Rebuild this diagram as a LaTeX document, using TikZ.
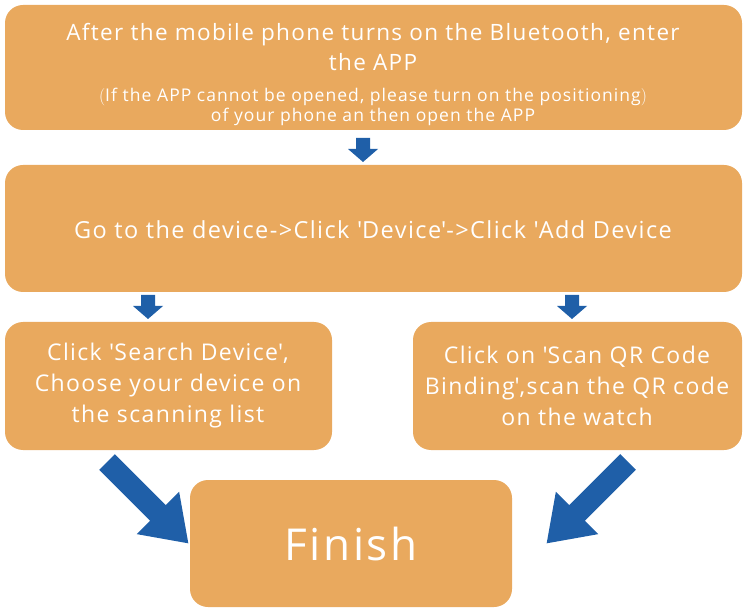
\documentclass[tikz,border=0pt]{standalone}
\usepackage{fontspec}
\setmainfont{Open Sans}[LetterSpace=6]
\newcommand{\sq}{\textquotesingle}
\begin{document}
\begin{tikzpicture}[x=1pt,y=-1pt,
 box/.style={fill=boxc,draw=none,rounded corners=18pt,text=white,align=center,inner sep=0pt},
 barr/.style={fill=arrc,draw=none}]
\definecolor{boxc}{HTML}{E9A95E}
\definecolor{arrc}{HTML}{1F5FA8}
\useasboundingbox (0,0) rectangle (747,612);
\path[box] (5,5) rectangle (742,130);
\node[text=white,align=center,font=\fontsize{22.5}{30}\selectfont] (t1) at (373,47) {After the mobile phone turns on the Bluetooth, enter\\the APP};
\node[text=white,align=center,font=\fontsize{17.5}{20}\selectfont] (t1b) at (373,107) {$\Bigl($If the APP cannot be opened, please turn on the positioning$\Bigr)$\\of your phone an then open the APP};
\path[box] (5,165) rectangle (742,292);
\node[text=white,font=\fontsize{23.5}{28}\selectfont] (t2) at (373,230) {Go to the device->Click \sq Device\sq->Click \sq Add Device};
\path[box] (5,322) rectangle (332,450);
\node[text=white,align=center,font=\fontsize{23}{31}\selectfont] (t3) at (168,386) {Click \sq Search Device\sq,\\Choose your device on\\the scanning list};
\path[box] (413,322) rectangle (742,450);
\node[text=white,align=center,font=\fontsize{23}{31}\selectfont] (t4) at (577,386) {Click on \sq Scan QR Code\\Binding\sq,scan the QR code\\on the watch};
\path[box] (190,480) rectangle (512,607);
\node[text=white,font=\fontsize{44}{50}\selectfont] (t5) at (351,544) {Finish};
% small down arrows
\foreach \cx/\cy in {363/138,148/295,572/295}{
 \fill[arrc] (\cx-7,\cy) -- (\cx+7,\cy) -- (\cx+7,\cy+11) -- (\cx+15,\cy+11) -- (\cx,\cy+24) -- (\cx-15,\cy+11) -- (\cx-7,\cy+11) -- cycle;}
% big diagonal arrows
\begin{scope}[shift={(107,462)},rotate=-45]
 \fill[arrc] (0,-11) -- (72,-11) -- (72,-30) -- (115,0) -- (72,30) -- (72,11) -- (0,11) -- cycle;
\end{scope}
\begin{scope}[shift={(628,462)},rotate=-135]
 \fill[arrc] (0,-11) -- (72,-11) -- (72,-30) -- (115,0) -- (72,30) -- (72,11) -- (0,11) -- cycle;
\end{scope}
\end{tikzpicture}
\end{document}
